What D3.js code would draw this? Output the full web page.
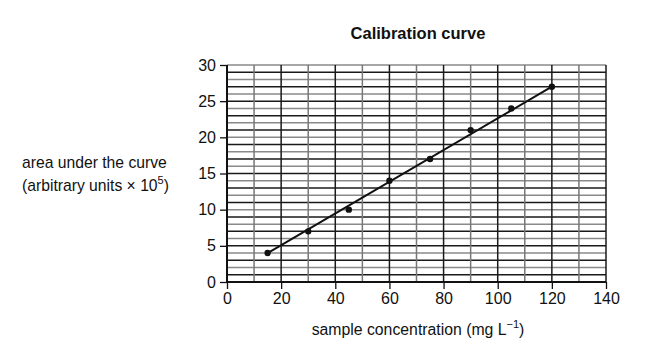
<!DOCTYPE html>
<html><head><meta charset="utf-8">
<script src="https://cdn.jsdelivr.net/npm/d3@7"></script>
<style>body{margin:0;background:#fff}svg{display:block;font-family:"Liberation Sans",Arial,sans-serif}</style>
</head><body>
<svg id="c" width="668" height="358"></svg>
<script>
const concentration = [15, 30, 45, 60, 75, 90, 105, 120];
const area = [4, 7, 10, 14, 17, 21, 24, 27];
const fitLine = [[15, 4], [120, 27]];
const xTicks = [0, 20, 40, 60, 80, 100, 120, 140];
const yTicks = [0, 5, 10, 15, 20, 25, 30];

const svg = d3.select("#c");
const x = d3.scaleLinear().domain([0, 140]).range([227, 606]);
const y = d3.scaleLinear().domain([0, 30]).range([282, 65]);

// grid
const g = svg.append("g");
d3.range(1, 31).forEach(v => {
  g.append("line").attr("x1", x(0)).attr("x2", x(140)).attr("y1", y(v)).attr("y2", y(v))
    .attr("stroke", v % 2 ? "#1a1a1a" : "#8a8a8a").attr("stroke-width", 1.5);
});
d3.range(10, 141, 10).forEach(v => {
  g.append("line").attr("y1", y(0)).attr("y2", y(30)).attr("x1", x(v)).attr("x2", x(v))
    .attr("stroke", v % 20 ? "#777" : "#1a1a1a").attr("stroke-width", 1.5);
});

// axes
const xa = svg.append("g").attr("transform", `translate(0,${y(0)})`)
  .call(d3.axisBottom(x).tickValues(xTicks).tickSize(7).tickPadding(4));
const ya = svg.append("g").attr("transform", `translate(${x(0)},0)`)
  .call(d3.axisLeft(y).tickValues(yTicks).tickSize(7).tickPadding(4));
[xa, ya].forEach(a => {
  a.select(".domain").attr("stroke", "#111").attr("stroke-width", 2);
  a.selectAll(".tick line").attr("stroke", "#111").attr("stroke-width", 1.3);
  a.selectAll("text").attr("font-size", 16).attr("fill", "#111").attr("font-family", "Liberation Sans, Arial, sans-serif");
});
xa.select(".domain").attr("d", `M${x(0)},0H${x(140)}`);
ya.select(".domain").attr("d", `M0,${y(0)}V${y(30)}`);

// fit line
svg.append("path").datum(fitLine)
  .attr("d", d3.line().x(d => x(d[0])).y(d => y(d[1])))
  .attr("stroke", "#111").attr("stroke-width", 2).attr("fill", "none");

// points
svg.selectAll("circle.p").data(concentration).join("circle")
  .attr("cx", d => x(d)).attr("cy", (d, i) => y(area[i])).attr("r", 3.2).attr("fill", "#111");

// texts
svg.append("text").attr("x", 418).attr("y", 39).attr("text-anchor", "middle")
  .attr("font-size", 16.5).attr("font-weight", "bold").attr("fill", "#111").text("Calibration curve");
svg.append("text").attr("x", 22).attr("y", 168).attr("font-size", 15.7).attr("fill", "#111").text("area under the curve");
const t2 = svg.append("text").attr("x", 22).attr("y", 191).attr("font-size", 15.7).attr("fill", "#111");
t2.append("tspan").text("(arbitrary units \u00d7 10");
t2.append("tspan").attr("dy", -7).attr("font-size", 11).text("5");
t2.append("tspan").attr("dy", 7).text(")");
const xl = svg.append("text").attr("x", 418).attr("y", 335).attr("text-anchor", "middle").attr("font-size", 15.8).attr("fill", "#111");
xl.append("tspan").text("sample concentration (mg L");
xl.append("tspan").attr("dy", -7).attr("font-size", 11).text("\u22121");
xl.append("tspan").attr("dy", 7).text(")");
</script>
</body></html>
